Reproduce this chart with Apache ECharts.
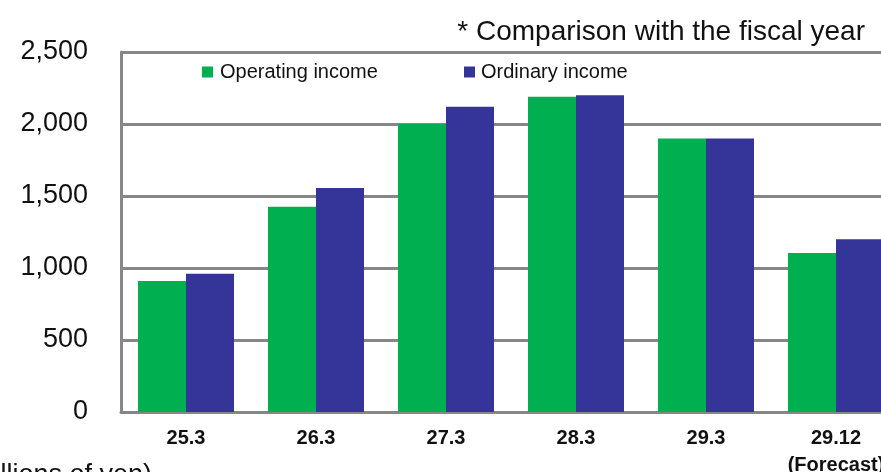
<!DOCTYPE html>
<html>
<head>
<meta charset="utf-8">
<script src="https://cdn.jsdelivr.net/npm/echarts@6/dist/echarts.min.js"></script>
<style>
  html, body { margin: 0; padding: 0; background: #ffffff; }
  #chart { width: 881px; height: 472px; }
</style>
</head>
<body>
<div id="chart"></div>
<script>
// Fiscal periods and income figures (millions of yen)
const categories = ['25.3', '26.3', '27.3', '28.3', '29.3', '29.12\n(Forecast)'];
const operatingIncome = [910, 1425, 2000, 2190, 1900, 1105];
const ordinaryIncome = [960, 1555, 2120, 2200, 1900, 1200];
const yTicks = [0, 500, 1000, 1500, 2000, 2500];

const FONT = '"Liberation Sans", Arial, sans-serif';
const GRID_GRAY = '#878787';

const chart = echarts.init(document.getElementById('chart'), null, { renderer: 'canvas' });

chart.setOption({
  backgroundColor: '#ffffff',
  animation: false,
  textStyle: { fontFamily: FONT },
  grid: {
    left: 121, top: 52, width: 780, height: 360,
    containLabel: false,
    outerBoundsMode: 'none'
  },
  legend: [
    {
      data: ['Operating income'],
      left: 202, top: 62, padding: 0,
      icon: 'rect', itemWidth: 11, itemHeight: 11, itemGap: 0,
      textStyle: { fontFamily: FONT, fontSize: 20, color: '#111111', padding: [0, 0, 0, 2] }
    },
    {
      data: ['Ordinary income'],
      left: 464, top: 62, padding: 0,
      icon: 'rect', itemWidth: 11, itemHeight: 11, itemGap: 0,
      textStyle: { fontFamily: FONT, fontSize: 20, color: '#111111', padding: [0, 0, 0, 1] }
    }
  ],
  xAxis: {
    type: 'category',
    data: categories,
    axisLine: { show: true, lineStyle: { color: GRID_GRAY, width: 3 } },
    axisTick: { show: false },
    axisLabel: {
      margin: 13,
      fontFamily: FONT, fontSize: 20, fontWeight: 'bold', color: '#111111',
      lineHeight: 27, interval: 0
    }
  },
  yAxis: {
    type: 'value',
    min: yTicks[0],
    max: yTicks[yTicks.length - 1],
    interval: yTicks[1] - yTicks[0],
    axisLine: { show: true, lineStyle: { color: GRID_GRAY, width: 3 } },
    axisTick: { show: false },
    splitLine: { show: true, lineStyle: { color: GRID_GRAY, width: 3 } },
    axisLabel: {
      margin: 33,
      fontFamily: FONT, fontSize: 27, color: '#111111',
      formatter: v => v.toLocaleString('en-US')
    }
  },
  series: [
    {
      name: 'Operating income',
      type: 'bar',
      data: operatingIncome,
      barWidth: 48,
      barGap: '0%',
      itemStyle: { color: '#00B050' }
    },
    {
      name: 'Ordinary income',
      type: 'bar',
      data: ordinaryIncome,
      barWidth: 48,
      barGap: '0%',
      itemStyle: { color: '#353599' }
    }
  ],
  graphic: [
    {
      type: 'text',
      right: 16, top: 18,
      style: {
        text: '* Comparison with the fiscal year',
        fontFamily: FONT, fontSize: 28, fill: '#111111'
      }
    },
    {
      type: 'text',
      left: -37, top: 462,
      style: {
        text: '(millions of yen)',
        fontFamily: FONT, fontSize: 27, fill: '#111111'
      }
    }
  ]
});
</script>
</body>
</html>
